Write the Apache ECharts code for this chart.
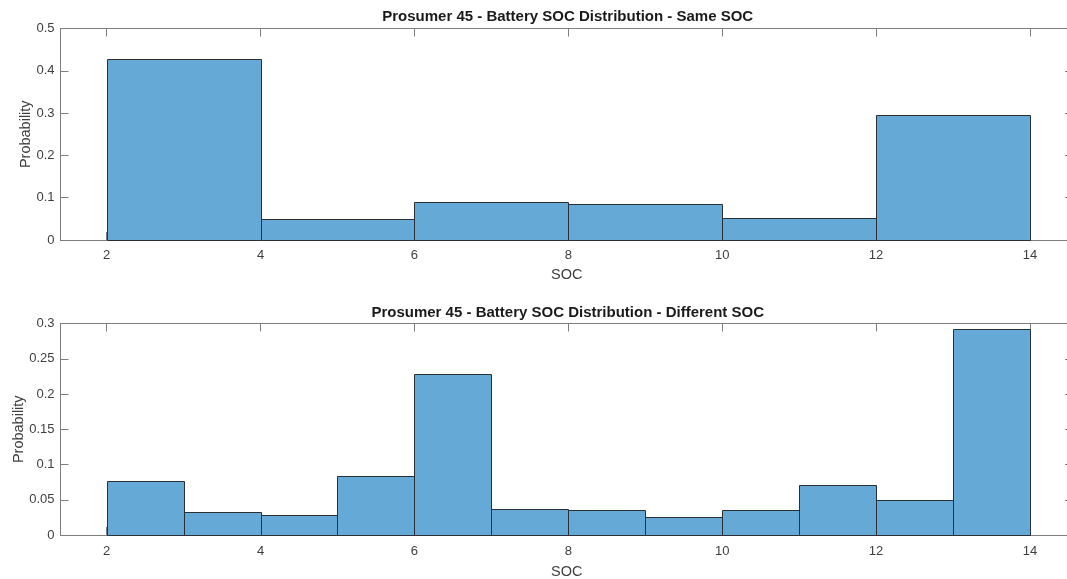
<!DOCTYPE html>
<html>
<head>
<meta charset="utf-8">
<title>Prosumer 45 - Battery SOC Distribution</title>
<script src="https://cdn.jsdelivr.net/npm/echarts@6/dist/echarts.min.js"></script>
<style>
  html, body { margin: 0; padding: 0; background: #fff; }
  #chart { width: 1067px; height: 579px; }
</style>
</head>
<body>
<div id="chart"></div>
<script>
// Histogram bin edges and probabilities (same SOC)
const sameEdges = [2, 4, 6, 8, 10, 12, 14];
const sameProb = [0.427, 0.049, 0.091, 0.086, 0.051, 0.295];

// Histogram bin edges and probabilities (different SOC)
const diffEdges = [2, 3, 4, 5, 6, 7, 8, 9, 10, 11, 12, 13, 14];
const diffProb = [0.077, 0.032, 0.029, 0.083, 0.228, 0.037, 0.035, 0.026, 0.0355, 0.071, 0.049, 0.292];

// Tick labels
const socTicks = [2, 4, 6, 8, 10, 12, 14];
const sameYTicks = [0, 0.1, 0.2, 0.3, 0.4, 0.5];
const diffYTicks = [0, 0.05, 0.1, 0.15, 0.2, 0.25, 0.3];

const titles = [
  'Prosumer 45 - Battery SOC Distribution - Same SOC',
  'Prosumer 45 - Battery SOC Distribution - Different SOC'
];

const FONT = "'Liberation Sans', Arial, Helvetica, sans-serif";
const AXIS_COLOR = '#7d7d7d';
const TEXT_COLOR = '#3e3e3e';
const BAR_FILL = '#65a9d7';
const BAR_EDGE = '#2a2f36';

function bins(edges, probs) {
  return probs.map((p, i) => [edges[i], edges[i + 1], p]);
}

function renderBin(params, api) {
  const topLeft = api.coord([api.value(0), api.value(2)]);
  const bottomRight = api.coord([api.value(1), 0]);
  return {
    type: 'rect',
    shape: {
      x: Math.round(topLeft[0]) + 0.5,
      y: Math.round(topLeft[1]) + 0.5,
      width: Math.round(bottomRight[0]) - Math.round(topLeft[0]),
      height: Math.round(bottomRight[1]) - Math.round(topLeft[1])
    },
    style: { fill: BAR_FILL, stroke: BAR_EDGE, lineWidth: 1 }
  };
}

// The plot box runs slightly past the right edge of the canvas
const X_MIN = 1.4, X_MAX = 14.56;

function xAxisPair(gridIndex) {
  const common = {
    type: 'value', gridIndex, min: X_MIN, max: X_MAX,
    axisLine: { show: true, onZero: false, lineStyle: { color: AXIS_COLOR, width: 1 } },
    axisTick: { show: true, inside: true, length: 8, customValues: socTicks, lineStyle: { color: AXIS_COLOR } },
    splitLine: { show: false }
  };
  return [
    Object.assign({}, common, {
      position: 'bottom',
      name: 'SOC', nameLocation: 'middle', nameGap: gridIndex === 0 ? 27 : 29,
      nameMoveOverlap: false,
      nameTextStyle: { fontFamily: FONT, fontSize: 14.5, color: TEXT_COLOR },
      axisLabel: {
        customValues: socTicks, margin: gridIndex === 0 ? 9 : 10,
        fontFamily: FONT, fontSize: 13, color: TEXT_COLOR
      }
    }),
    Object.assign({}, common, {
      position: 'top',
      axisLabel: { show: false }
    })
  ];
}

function yAxisPair(gridIndex, ticks, nameGap) {
  const step = ticks[1] - ticks[0];
  const common = {
    type: 'value', gridIndex, min: ticks[0], max: ticks[ticks.length - 1], interval: step,
    axisLine: { show: true, lineStyle: { color: AXIS_COLOR, width: 1 } },
    axisTick: { show: true, inside: true, length: 8, lineStyle: { color: AXIS_COLOR } },
    splitLine: { show: false }
  };
  return [
    Object.assign({}, common, {
      position: 'left',
      name: 'Probability', nameLocation: 'middle', nameGap,
      nameMoveOverlap: false,
      nameTextStyle: { fontFamily: FONT, fontSize: 14.5, color: TEXT_COLOR },
      axisLabel: {
        margin: 6, fontFamily: FONT, fontSize: 13, color: TEXT_COLOR,
        formatter: v => String(+v.toFixed(2))
      }
    }),
    Object.assign({}, common, {
      position: 'right',
      axisLabel: { show: false }
    })
  ];
}

const chart = echarts.init(document.getElementById('chart'), null, { renderer: 'canvas' });

chart.setOption({
  backgroundColor: '#ffffff',
  animation: false,
  graphic: [
    { type: 'text', x: 567.7, y: 17, style: { text: titles[0], fontFamily: FONT, fontSize: 15, fontWeight: 'bold', fill: '#1a1a1a', align: 'center', verticalAlign: 'middle' } },
    { type: 'text', x: 567.7, y: 313, style: { text: titles[1], fontFamily: FONT, fontSize: 15, fontWeight: 'bold', fill: '#1a1a1a', align: 'center', verticalAlign: 'middle' } }
  ],
  grid: [
    { left: 60.5, right: -6, top: 28.5, height: 211.5, show: false, containLabel: false, outerBoundsMode: 'none' },
    { left: 60.5, right: -6, top: 323.5, height: 211.5, show: false, containLabel: false, outerBoundsMode: 'none' }
  ],
  xAxis: [].concat(xAxisPair(0), xAxisPair(1)),
  yAxis: [].concat(yAxisPair(0, sameYTicks, 27), yAxisPair(1, diffYTicks, 34)),
  series: [
    {
      type: 'custom', xAxisIndex: 0, yAxisIndex: 0,
      data: bins(sameEdges, sameProb),
      encode: { x: [0, 1], y: 2 },
      renderItem: renderBin
    },
    {
      type: 'custom', xAxisIndex: 2, yAxisIndex: 2,
      data: bins(diffEdges, diffProb),
      encode: { x: [0, 1], y: 2 },
      renderItem: renderBin
    }
  ]
});
</script>
</body>
</html>
